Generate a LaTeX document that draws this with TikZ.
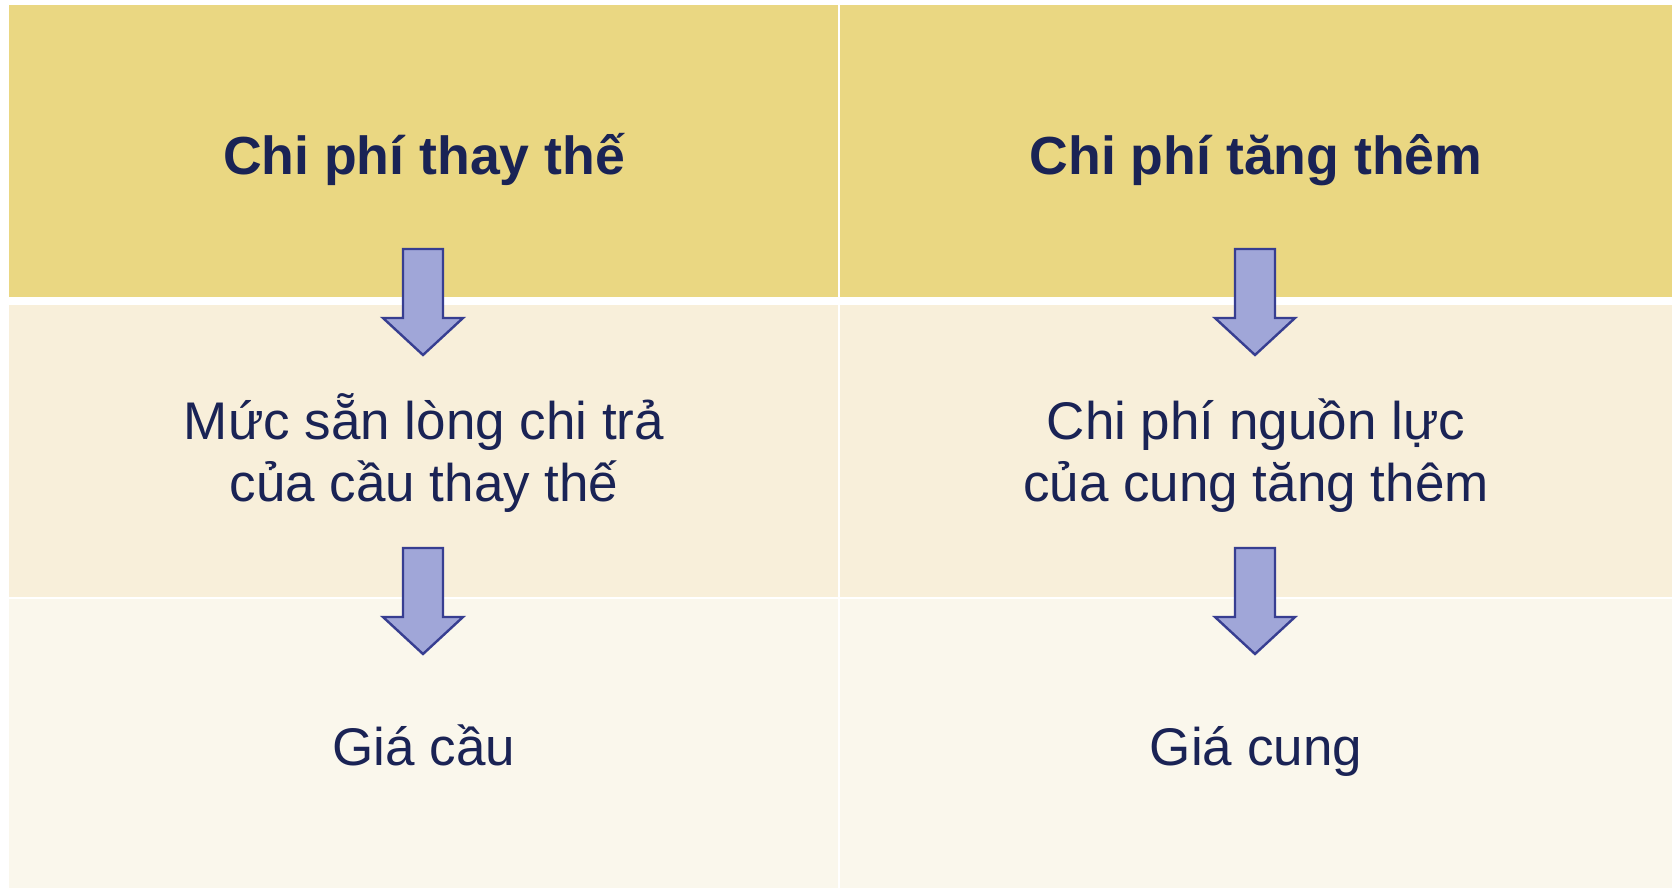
\documentclass[tikz,border=0pt]{standalone}
\usepackage{fontspec}
\setmainfont{Liberation Sans}
\definecolor{headfill}{RGB}{234,215,130}
\definecolor{midfill}{RGB}{248,239,218}
\definecolor{lowfill}{RGB}{250,247,236}
\definecolor{navytext}{RGB}{26,35,85}
\definecolor{arrowfill}{RGB}{160,166,216}
\definecolor{arrowline}{RGB}{55,62,145}
\tikzset{
  headtext/.style={font=\fontsize{26.8pt}{32pt}\selectfont\bfseries, text=navytext, inner sep=0pt, anchor=base},
  bodytext/.style={font=\fontsize{26.5pt}{31.35pt}\selectfont, text=navytext, inner sep=0pt, align=center, anchor=base},
  pics/downarrow/.style={code={
    \draw[fill=arrowfill, draw=arrowline, line width=1.2pt, line join=miter]
      (-20,0) -- (20,0) -- (20,69) -- (40,69) -- (0,106) -- (-40,69) -- (-20,69) -- cycle;
  }}
}
\begin{document}
\begin{tikzpicture}[x=0.5pt, y=-0.5pt]
  \useasboundingbox (0,0) rectangle (1672,889);
  \fill[white] (0,0) rectangle (1672,889);
  % table cells
  \fill[headfill] (9,5) rectangle (838,297);
  \fill[headfill] (840,5) rectangle (1672,297);
  \fill[midfill] (9,305) rectangle (838,597);
  \fill[midfill] (840,305) rectangle (1672,597);
  \fill[lowfill] (9,599) rectangle (838,888);
  \fill[lowfill] (840,599) rectangle (1672,888);
  % left column (two-line nodes sit on the baseline of their last line)
  \node[headtext] (hl) at (424,174) {Chi phí thay thế};
  \node[bodytext] (ml) at (424,501.7) {Mức sẵn lòng chi trả\\của cầu thay thế};
  \node[bodytext] (ll) at (424,765) {Giá cầu};
  % right column
  \node[headtext] (hr) at (1256,174) {Chi phí tăng thêm};
  \node[bodytext] (mr) at (1256,501.7) {Chi phí nguồn lực\\của cung tăng thêm};
  \node[bodytext] (lr) at (1256,765) {Giá cung};
  % arrows
  \pic at (423,249) {downarrow};
  \pic at (423,548) {downarrow};
  \pic at (1255,249) {downarrow};
  \pic at (1255,548) {downarrow};
\end{tikzpicture}
\end{document}
